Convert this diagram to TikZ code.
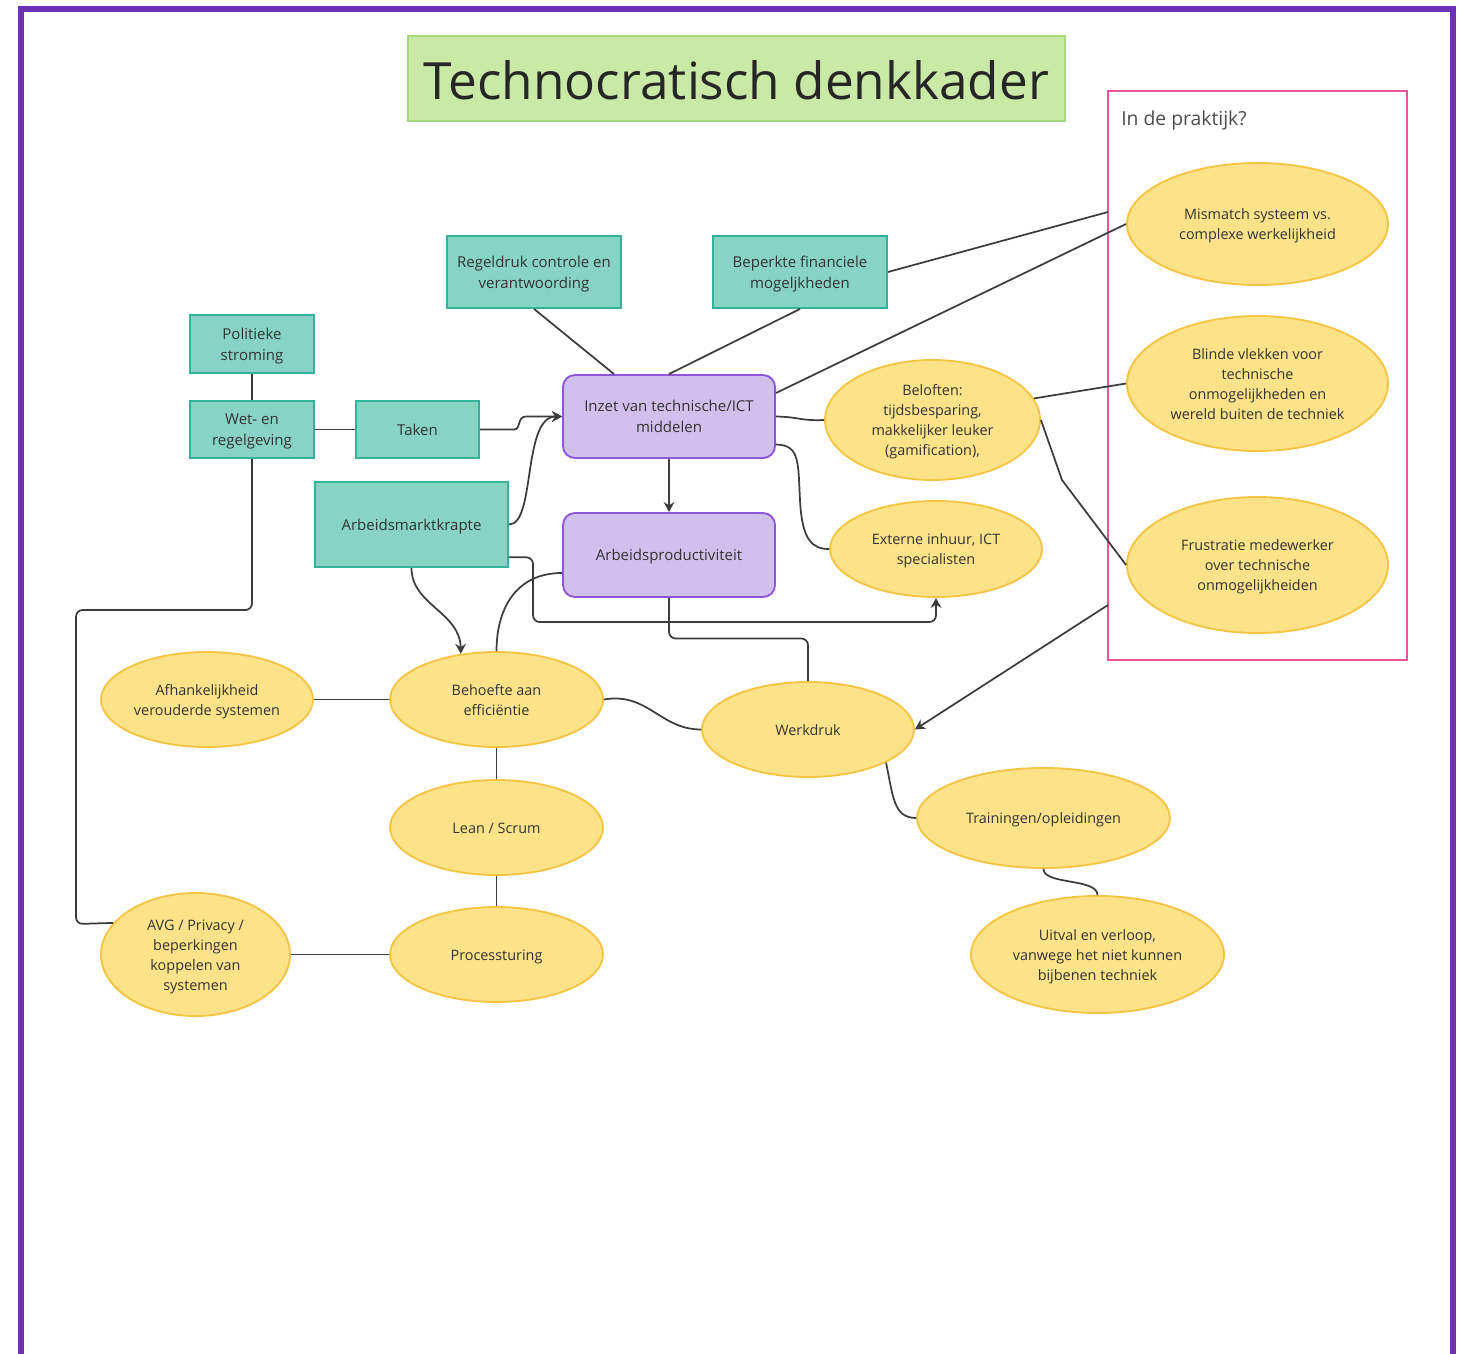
\documentclass[tikz,border=0pt]{standalone}
\usepackage{fontspec}
\setmainfont{Open Sans}
\usetikzlibrary{shapes.geometric,arrows.meta}
\definecolor{tealf}{HTML}{88D4C4}
\definecolor{tealb}{HTML}{33B49A}
\definecolor{purpf}{HTML}{D1C0EB}
\definecolor{purpb}{HTML}{8E55D8}
\definecolor{yelf}{HTML}{FCE38A}
\definecolor{yelb}{HTML}{F5C444}
\definecolor{titf}{HTML}{C9E9A6}
\definecolor{titb}{HTML}{A6D977}
\definecolor{pinkb}{HTML}{E8559A}
\definecolor{framec}{HTML}{6B2FBA}
\definecolor{lin}{HTML}{3C3C3C}
\definecolor{txt}{HTML}{333333}
\newcommand\bxfont{\fontsize{11.25}{15.75}\selectfont}
\newcommand\elfont{\fontsize{10.8}{15}\selectfont}
\newcommand\T[1]{\raisebox{-1.2pt}[\height][\depth]{\begin{tabular}{@{}c@{}}#1\end{tabular}}}
\newcommand\dnshift[2]{\raisebox{-#1}[\height][\depth]{#2}}
\tikzset{
  every node/.style={text=txt},
  tbox/.style 2 args={rectangle, draw=tealb, fill=tealf, line width=1.4pt,
    minimum width=#1*0.75pt, minimum height=#2*0.75pt, inner sep=0pt,
    font=\bxfont},
  pbox/.style 2 args={rectangle, rounded corners=9pt, draw=purpb, fill=purpf, line width=1.4pt,
    minimum width=#1*0.75pt, minimum height=#2*0.75pt, inner sep=0pt,
    font=\bxfont},
  ell/.style 2 args={ellipse, draw=yelb, fill=yelf, line width=1.4pt,
    minimum width=#1*0.75pt, minimum height=#2*0.75pt, inner sep=0pt,
    font=\elfont},
  conn/.style={draw=lin, line width=1.3pt},
  arr/.style={conn, -{Stealth[length=7.5pt,width=8pt]}},
}
\begin{document}
\begin{tikzpicture}[x=0.75pt,y=-0.75pt]
\useasboundingbox (0,0) rectangle (1460,1353);
\fill[white] (0,0) rectangle (1460,1353);
% frame
\draw[framec, line width=4.5pt] (21,9) rectangle (1453,1360);
% title
\node[rectangle, draw=titb, fill=titf, line width=1.2pt, minimum width=657*0.75pt,
  minimum height=85*0.75pt, inner sep=0pt, font=\fontsize{38.5}{44}\selectfont, text=black!85]
  (title) at (736.5,78.5) {\dnshift{1.5pt}{Technocratisch denkkader}};
% praktijk box
\node[rectangle, draw=pinkb, line width=1.5pt, minimum width=299*0.75pt,
  minimum height=569*0.75pt, inner sep=0pt] (praktijk) at (1257.5,375.5) {};
\node[anchor=west, font=\fontsize{14.5}{18}\selectfont, text=black!70, inner sep=0pt]
  (pktitle) at (1121,120.5) {In de praktijk?};
\coordinate (pk1) at (1108,212);
\coordinate (pk2) at (1108,605);

% teal boxes
\node[tbox={174}{72}] (regel) at (534,272) {\T{Regeldruk controle en\\verantwoording}};
\node[tbox={174}{72}] (beperkte) at (800,272) {\T{Beperkte financiele\\mogeljkheden}};
\node[tbox={124}{58}] (politiek) at (252,344) {\T{Politieke\\stroming}};
\node[tbox={124}{57}] (wet) at (252,429.5) {\T{Wet- en\\regelgeving}};
\node[tbox={123}{57}] (taken) at (417.5,429.5) {\T{Taken}};
\node[tbox={193}{85}] (amk) at (411.5,524.5) {\T{Arbeidsmarktkrapte}};
% purple boxes
\node[pbox={212}{83}] (inzet) at (669,416.5) {\T{Inzet van technische/ICT\\middelen}};
\node[pbox={212}{84}] (ap) at (669,555) {\T{Arbeidsproductiviteit}};
% ellipses
\node[ell={261}{122}] (mismatch) at (1257.5,224) {\T{Mismatch systeem vs.\\complexe werkelijkheid}};
\node[ell={261}{135}] (blinde) at (1257.5,383.5) {\T{Blinde vlekken voor\\technische\\onmogelijkheden en\\wereld buiten de techniek}};
\node[ell={261}{136}] (frustratie) at (1257.5,565) {\T{Frustratie medewerker\\over technische\\onmogelijkheiden}};
\node[ell={215}{120}] (beloften) at (932.5,420) {\T{Beloften:\\tijdsbesparing,\\makkelijker leuker\\(gamification),}};
\node[ell={212}{96}] (externe) at (936,549) {\T{Externe inhuur, ICT\\specialisten}};
\node[ell={212}{95}] (afh) at (207,699.5) {\T{Afhankelijkheid\\verouderde systemen}};
\node[ell={213}{95}] (behoefte) at (496.5,699.5) {\T{Behoefte aan\\efficiëntie}};
\node[ell={212}{95}] (werkdruk) at (808,729.5) {\T{Werkdruk}};
\node[ell={213}{95}] (lean) at (496.5,827.5) {\T{Lean / Scrum}};
\node[ell={253}{100}] (train) at (1043.5,818) {\T{Trainingen/opleidingen}};
\node[ell={189}{123}] (avg) at (195.5,954.5) {\T{AVG / Privacy /\\beperkingen\\koppelen van\\systemen}};
\node[ell={213}{95}] (proc) at (496.5,954.5) {\T{Processturing}};
\node[ell={253}{117}] (uitval) at (1097.5,954.5) {\T{Uitval en verloop,\\vanwege het niet kunnen\\bijbenen techniek}};

% connectors
\draw[conn] (regel.south) -- ([xshift=-41.25pt]inzet.north);
\draw[conn] (beperkte.south) -- (inzet.north);
\draw[conn] (beperkte.east) -- (pk1);
\draw[conn] ([yshift=17.6pt]inzet.east) -- (mismatch.west);
\draw[conn] (inzet.east) .. controls (800,417) and (800,421) .. (beloften.west);
\draw[conn] ([yshift=-21pt]inzet.east) .. controls (800,445) and (798,462) .. (800,500)
  .. controls (802,540) and (812,549) .. (externe.west);
\draw[arr] (taken.east) -- (514,429.5) .. controls (521,429.5) and (517,416.5) .. (526,416.5) -- (inzet.west);
\draw[arr] (amk.east) .. controls (536,524.5) and (522,416.5) .. (inzet.west);
\draw[arr] (inzet.south) -- (ap.north);
\draw[conn] (politiek.south) -- (wet.north);
\draw[conn] (wet.east) -- (taken.west);
\draw[conn, rounded corners=5pt] (wet.south) -- (252,610) -- (76,610) -- (76,924) -- (avg.159);
\draw[arr] (amk.south) .. controls (411.5,605) and (460,612) .. (behoefte.128);
\draw[arr, rounded corners=5pt] ([yshift=8pt]amk.south east) -| (533,622) -| (externe.south);
\draw[conn] ([yshift=-13.5pt]ap.west) .. controls (515,573) and (496.5,610) .. (behoefte.north);
\draw[conn, rounded corners=5pt] (ap.south) -- (669,638.5) -| (werkdruk.north);
\draw[conn] (behoefte.east) .. controls (648,692) and (660,729.5) .. (werkdruk.west);
\draw[conn] (afh.east) -- (behoefte.west);
\draw[conn] (behoefte.south) -- (lean.north);
\draw[conn] (lean.south) -- (proc.north);
\draw[conn] (avg.east) -- (proc.west);
\draw[conn] (beloften.12) -- (blinde.west);
\draw[conn] (beloften.east) -- (1062,480) -- (frustratie.west);
\draw[arr] (pk2) -- (werkdruk.east);
\draw[conn] (werkdruk.-23) .. controls (893,795) and (893,818) .. (train.west);
\draw[conn] (train.south) .. controls (1043.5,885) and (1097.5,878) .. (uitval.north);
\end{tikzpicture}
\end{document}
